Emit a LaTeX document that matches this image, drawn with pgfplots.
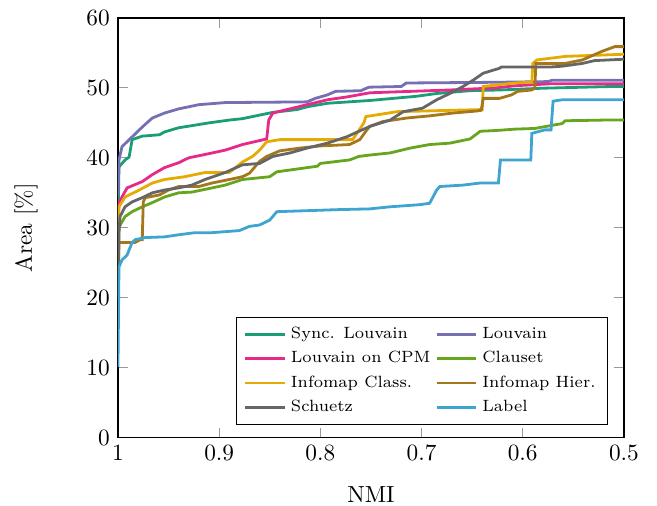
\documentclass[border=0pt]{standalone}
\usepackage{pgfplots}
\pgfplotsset{compat=1.18}
\definecolor{csync}{RGB}{27,158,119}
\definecolor{clouv}{RGB}{117,112,179}
\definecolor{ccpm}{RGB}{231,41,138}
\definecolor{cclau}{RGB}{102,166,30}
\definecolor{cicl}{RGB}{230,171,2}
\definecolor{cihi}{RGB}{166,118,29}
\definecolor{csch}{RGB}{102,102,102}
\definecolor{clab}{RGB}{64,164,208}
\begin{document}
\begin{tikzpicture}
\begin{axis}[
  name=ax,
  scale only axis,
  width=217pt, height=180pt,
  x dir=reverse,
  xmin=0.5, xmax=1, ymin=0, ymax=60,
  xtick={0.5,0.6,0.7,0.8,0.9,1},
  ytick={0,10,20,30,40,50,60},
  xlabel={NMI}, ylabel={Area [\%]},
  xlabel style={at={(ticklabel cs:0.5,4pt)}},
  ylabel style={at={(ticklabel cs:0.5,14pt)}},
  tick align=inside,
  major tick length=4.3pt,
  tick style={color=gray!80, line width=0.5pt},
  axis line style={line width=0.6pt},
  every axis plot/.append style={line width=1.2pt},
  legend columns=2,
  legend cell align=left,
  legend style={at={(0.968,0.031)}, anchor=south east, font=\scriptsize, draw=black},
]
\addplot[csync] coordinates {(1,30) (0.999,38.7) (0.993,39.7) (0.989,40.1) (0.986,42.6) (0.976,43.1) (0.959,43.3) (0.954,43.7) (0.940,44.3) (0.927,44.6) (0.910,45.0) (0.890,45.4) (0.877,45.6) (0.847,46.5) (0.823,46.9) (0.813,47.3) (0.793,47.8) (0.751,48.2) (0.705,48.8) (0.685,49.2) (0.652,49.6) (0.623,49.7) (0.581,49.95) (0.512,50.2) (0.5,50.2)};
\addlegendentry{Sync. Louvain}
\addplot[clouv] coordinates {(1,34.5) (0.999,39.7) (0.996,41.6) (0.986,43.0) (0.976,44.4) (0.966,45.7) (0.954,46.4) (0.940,47.0) (0.920,47.6) (0.894,47.9) (0.813,48.0) (0.805,48.5) (0.793,49.0) (0.785,49.5) (0.760,49.6) (0.752,50.1) (0.720,50.2) (0.715,50.7) (0.627,50.8) (0.575,50.9) (0.571,51.1) (0.5,51.1)};
\addlegendentry{Louvain}
\addplot[ccpm] coordinates {(1,28) (0.999,33.6) (0.996,34.4) (0.991,35.7) (0.986,36.0) (0.976,36.6) (0.966,37.6) (0.954,38.6) (0.940,39.3) (0.930,40.0) (0.910,40.6) (0.894,41.1) (0.877,41.9) (0.853,42.7) (0.851,45.4) (0.847,46.4) (0.833,46.9) (0.813,47.6) (0.793,48.3) (0.774,48.7) (0.751,49.3) (0.672,49.7) (0.627,50.0) (0.608,50.3) (0.571,50.6) (0.5,50.6)};
\addlegendentry{Louvain on CPM}
\addplot[cclau] coordinates {(1,25) (0.999,30.1) (0.993,31.6) (0.986,32.3) (0.976,33.0) (0.966,33.6) (0.954,34.4) (0.940,35.0) (0.927,35.1) (0.907,35.7) (0.894,36.1) (0.877,36.9) (0.850,37.3) (0.843,38.0) (0.803,38.8) (0.800,39.2) (0.771,39.7) (0.762,40.2) (0.751,40.4) (0.731,40.7) (0.711,41.4) (0.692,41.9) (0.672,42.1) (0.652,42.7) (0.642,43.8) (0.627,43.9) (0.608,44.1) (0.588,44.2) (0.561,44.9) (0.558,45.3) (0.519,45.4) (0.5,45.4)};
\addlegendentry{Clauset}
\addplot[cicl] coordinates {(1,29.3) (0.999,33.0) (0.993,34.4) (0.979,35.4) (0.966,36.4) (0.954,36.9) (0.934,37.3) (0.914,37.9) (0.890,37.9) (0.877,39.4) (0.867,40.2) (0.860,41.1) (0.853,42.3) (0.840,42.6) (0.768,42.6) (0.757,45.0) (0.755,45.9) (0.724,46.6) (0.669,46.8) (0.640,46.9) (0.639,50.2) (0.608,50.7) (0.591,50.8) (0.590,53.5) (0.586,54.0) (0.558,54.5) (0.502,54.8) (0.5,54.8)};
\addlegendentry{Infomap Class.}
\addplot[cihi] coordinates {(1,20) (0.999,27.9) (0.983,27.9) (0.978,28.3) (0.976,28.3) (0.975,33.7) (0.973,34.3) (0.959,34.7) (0.950,35.4) (0.940,35.9) (0.920,35.9) (0.907,36.4) (0.890,36.9) (0.877,37.3) (0.870,37.8) (0.860,39.5) (0.853,40.2) (0.840,41.0) (0.820,41.4) (0.800,41.7) (0.771,41.9) (0.761,42.6) (0.754,44.0) (0.751,44.5) (0.738,45.2) (0.714,45.7) (0.692,46.0) (0.669,46.4) (0.645,46.7) (0.641,46.8) (0.639,48.5) (0.623,48.5) (0.611,49.0) (0.605,49.5) (0.591,49.7) (0.588,50.0) (0.587,53.5) (0.558,53.5) (0.541,54.0) (0.522,55.2) (0.509,55.9) (0.5,55.9)};
\addlegendentry{Infomap Hier.}
\addplot[csch] coordinates {(1,19.7) (0.999,29.3) (0.998,31.6) (0.993,33.0) (0.986,33.7) (0.976,34.3) (0.966,35.0) (0.954,35.4) (0.940,35.7) (0.927,36.1) (0.914,36.9) (0.894,37.9) (0.877,39.0) (0.860,39.2) (0.847,40.2) (0.830,40.7) (0.813,41.4) (0.793,42.1) (0.774,43.0) (0.751,44.5) (0.731,45.4) (0.718,46.6) (0.699,47.1) (0.685,48.3) (0.672,49.2) (0.659,50.2) (0.649,51.1) (0.639,52.1) (0.623,52.8) (0.621,53.0) (0.571,53.0) (0.561,53.1) (0.541,53.5) (0.529,53.9) (0.5,54.1)};
\addlegendentry{Schuetz}
\addplot[clab] coordinates {(1,10.1) (0.999,24.4) (0.996,25.4) (0.991,26.1) (0.986,27.9) (0.983,28.3) (0.973,28.6) (0.954,28.7) (0.940,29.0) (0.924,29.3) (0.907,29.3) (0.880,29.6) (0.870,30.2) (0.860,30.4) (0.850,31.1) (0.843,32.3) (0.781,32.6) (0.751,32.7) (0.731,33.0) (0.702,33.3) (0.692,33.5) (0.685,35.4) (0.682,35.9) (0.659,36.1) (0.642,36.4) (0.624,36.4) (0.622,39.7) (0.592,39.7) (0.591,43.5) (0.578,44.0) (0.572,44.0) (0.570,48.1) (0.561,48.3) (0.5,48.3)};
\addlegendentry{Label}
\end{axis}
\pgfresetboundingbox
\path ([xshift=-50.6pt,yshift=-29.2pt]ax.south west) rectangle ([xshift=14.2pt,yshift=7.7pt]ax.north east);
\end{tikzpicture}
\end{document}
